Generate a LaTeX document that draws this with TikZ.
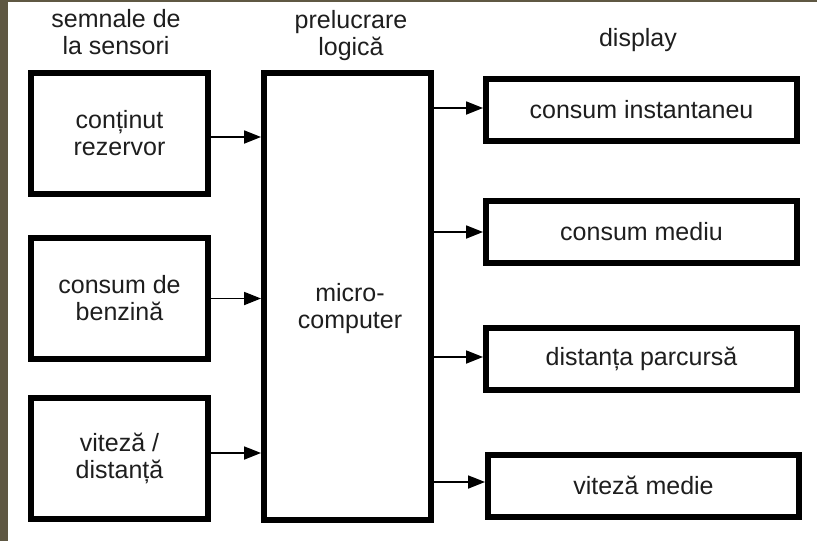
\documentclass[tikz,border=0pt]{standalone}
\usepackage{fontspec}
\setmainfont{Liberation Sans}
\usetikzlibrary{arrows.meta}
\definecolor{frameolive}{RGB}{95,88,67}
\definecolor{ink}{RGB}{30,30,30}
\tikzset{
  blockbox/.style={draw=black, line width=6pt, fill=white, inner sep=0pt,
    align=center, text=ink, font=\fontsize{25}{27}\selectfont},
  srcbox/.style={blockbox, minimum width=177pt, minimum height=121pt},
  outbox/.style={blockbox, minimum width=311pt, minimum height=62pt},
  caption/.style={align=center, text=ink, inner sep=0pt, font=\fontsize{25}{27}\selectfont},
  flow/.style={draw=black, line width=1.8pt, -{Triangle[length=17pt,width=13pt]}}
}
\begin{document}
\begin{tikzpicture}[x=1pt,y=-1pt]
  \useasboundingbox (0,0) rectangle (817,541);
  \fill[white] (0,0) rectangle (817,541);
  % olive frame along the left and top edges
  \fill[frameolive] (0,0) rectangle (8,541);
  \fill[frameolive] (0,0) rectangle (817,1.5);

  % column headings
  \node[caption] (hin)  at (116,32) {semnale de\\la sensori};
  \node[caption] (hmid) at (351,36) {prelucrare\\logică};
  \node[caption] (hout) at (638,40) {display};

  % sensor inputs
  \node[srcbox] (s1) at (119.5,133.5) {conținut\\rezervor};
  \node[srcbox] (s2) at (119.5,298.5) {consum de\\benzină};
  \node[srcbox] (s3) at (119.5,458.5) {viteză /\\distanță};

  % processing unit
  \node[blockbox, minimum width=167pt, minimum height=447pt] (mc) at (347.5,296.5) {};
  \node[caption] (mctxt) at (350,309) {micro-\\computer};

  % display outputs
  \node[outbox] (d1) at (641.5,110) {consum instantaneu};
  \node[outbox] (d2) at (641.5,232) {consum mediu};
  \node[outbox] (d3) at (641.5,358.5) {distanța parcursă};
  \node[outbox] (d4) at (643.5,485.5) {viteză medie};

  % signal flow
  \draw[flow] ([yshift=-3.5pt]s1.east) -- ([yshift=-3.5pt]s1.east -| mc.west);
  \draw[flow] (s2.east) -- (s2.east -| mc.west);
  \draw[flow] ([yshift=5.5pt]s3.east) -- ([yshift=5.5pt]s3.east -| mc.west);

  \draw[flow] ([yshift=2pt]d1.west -| mc.east) -- ([yshift=2pt]d1.west);
  \draw[flow] (d2.west -| mc.east) -- (d2.west);
  \draw[flow] ([yshift=1.5pt]d3.west -| mc.east) -- ([yshift=1.5pt]d3.west);
  \draw[flow] ([yshift=3.5pt]d4.west -| mc.east) -- ([yshift=3.5pt]d4.west);
\end{tikzpicture}
\end{document}
